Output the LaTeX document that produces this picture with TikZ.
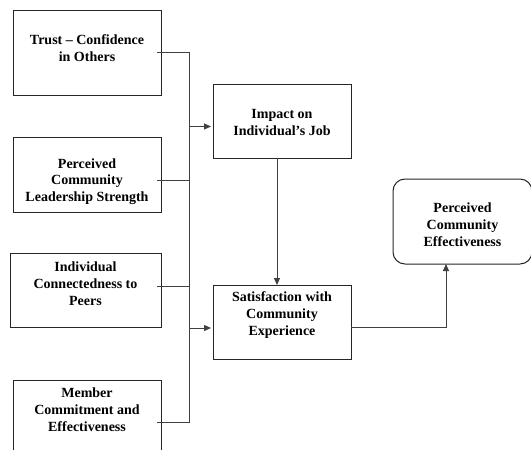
\documentclass[tikz,border=0pt]{standalone}
\usepackage{fontspec}
\setmainfont{Liberation Serif}
\usetikzlibrary{positioning, arrows.meta}

\begin{document}
\begin{tikzpicture}[x=1pt, y=-1pt, >={Triangle[length=7pt,width=6pt]},
    box/.style={draw=black!85, line width=1pt, outer sep=0pt, inner sep=0pt},
    txt/.style={align=center, font=\bfseries\fontsize{14}{16.8}\selectfont},
    link/.style={draw=black!75, line width=1pt}]
        \useasboundingbox (0,0) rectangle (531,450);
        \clip (0,0) rectangle (531,450);

        % linke Spalte
        \node[box, minimum width=148pt, minimum height=85pt] (trust) at (87,52.5) {};
        \node[box, minimum width=148pt, minimum height=75pt, below=42pt of trust] (lead) {};
        \node[box, minimum width=151pt, minimum height=74pt, below=41pt of lead, xshift=-1.5pt] (conn) {};
        \node[box, minimum width=148pt, minimum height=85pt, below=53pt of conn, xshift=1.5pt] (member) {};

        \node[txt] (trust-t) at ([yshift=4pt]trust.center) {Trust -- Confidence\\in Others};
        \node[txt] (lead-t) at ([yshift=-7pt]lead.center) {Perceived\\Community\\Leadership Strength};
        \node[txt] (conn-t) at ([yshift=6.5pt]conn.center) {Individual\\Connectedness to\\Peers};
        \node[txt] (member-t) at ([yshift=12.5pt]member.center) {Member\\Commitment and\\Effectiveness};

        % mittlere Spalte
        \node[box, minimum width=138pt, minimum height=74pt] (impact) at (282,121) {};
        \node[box, minimum width=138pt, minimum height=74pt, below=127pt of impact] (satis) {};
        \node[txt] (impact-t) at ([yshift=-1.5pt]impact.center) {Impact on\\Individual's Job};
        \node[txt] (satis-t) at ([yshift=7pt]satis.center) {Satisfaction with\\Community\\Experience};

        % rechts
        \node[box, rounded corners=12pt, minimum width=139pt, minimum height=85pt] (perc) at (462.5,221.5) {};
        \node[txt] (perc-t) at ([yshift=-3pt]perc.center) {Perceived\\Community\\Effectiveness};

        % Sammelleitung
        \coordinate (bustop) at (189,52.5);
        \coordinate (busbot) at (189,422.5);
        \draw[link] ([xshift=-4pt]trust.east) -- (bustop) -- (busbot) -- ([xshift=-4pt]member.east);
        \draw[link] ([xshift=-4pt,yshift=-5.5pt]lead.east) -- ([yshift=-5.5pt]lead.east -| bustop);
        \draw[link] ([xshift=-4pt,yshift=4pt]conn.east) -- ([yshift=4pt]conn.east -| bustop);

        \draw[link, ->, shorten >=2pt] ([yshift=-5.5pt]impact.west -| bustop) -- ([yshift=-5.5pt]impact.west);
        \draw[link, ->, shorten >=2pt] ([yshift=-6pt]satis.west -| bustop) -- ([yshift=-6pt]satis.west);
        \draw[link, ->] ([xshift=-5pt]impact.south) -- ([xshift=-5pt]satis.north);
        \draw[link, ->] ([yshift=-5pt]satis.east) -| ([xshift=-16.5pt]perc.south);
\end{tikzpicture}
\end{document}
